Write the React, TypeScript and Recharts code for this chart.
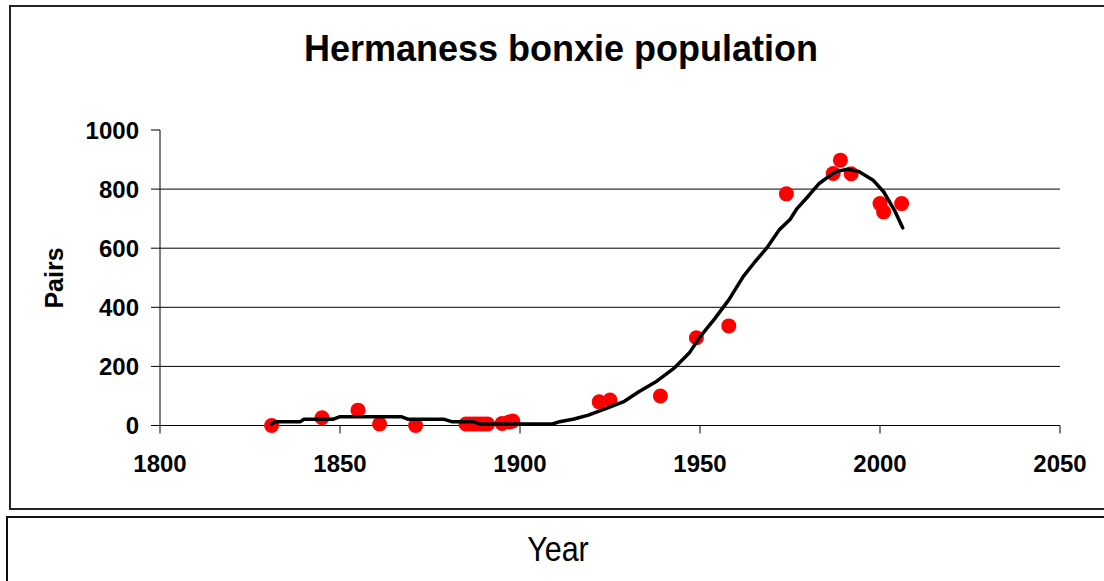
import React from 'react';
import { ScatterChart, Scatter, XAxis, YAxis, ReferenceLine } from 'recharts';

// Observed counts (year, breeding pairs)
const obsYears = [1831, 1845, 1855, 1861, 1871, 1885, 1886, 1887, 1888, 1889, 1890, 1891, 1895, 1897, 1898, 1922, 1925, 1939, 1949, 1958, 1974, 1987, 1989, 1992, 2000, 2001, 2006];
const obsPairs = [0, 26, 52, 5, 0, 5, 5, 5, 5, 5, 5, 5, 7, 12, 15, 80, 86, 100, 297, 337, 784, 853, 898, 852, 751, 723, 751];

// Trend line (year, pairs)
const trendYears = [1831, 1832, 1839, 1840, 1848, 1850, 1867, 1869, 1879, 1881, 1887, 1889, 1909, 1911, 1915, 1919, 1924, 1929, 1933, 1938, 1943, 1947, 1950, 1954, 1958, 1962, 1965, 1968.5, 1972, 1975, 1977, 1980, 1983, 1986, 1988, 1991, 1994, 1998, 2001, 2004, 2006.3];
const trendPairs = [5, 13, 13, 21, 21, 30, 30, 21, 21, 13, 13, 5, 5, 13, 22, 35, 58, 82, 114, 150, 196, 245, 300, 360, 425, 504, 550, 600, 662, 697, 735, 775, 818, 845, 860, 867, 860, 831, 791, 729, 669];

const xTicks = [1800, 1850, 1900, 1950, 2000, 2050];
const yTicks = [0, 200, 400, 600, 800, 1000];
const gridValues = [200, 400, 600, 800];

const observations = obsYears.map((year, i) => ({ year, pairs: obsPairs[i] }));
const trend = trendYears.map((year, i) => ({ year, pairs: trendPairs[i] }));

const FONT = '"Liberation Sans", Arial, sans-serif';

const RedDot = (props: any) => (
  <circle cx={props.cx} cy={props.cy} r={7.5} fill="#ff0000" />
);
const NoDot = () => <g />;

export default function App() {
  return (
    <div
      style={{
        position: 'absolute',
        left: 0,
        top: 0,
        width: 1104,
        height: 581,
        overflow: 'hidden',
        background: '#fff',
      }}
    >
      <div
        style={{
          position: 'absolute',
          left: 9,
          top: 5,
          width: 1120,
          height: 505,
          border: '2px solid #222',
          boxSizing: 'border-box',
        }}
      />
      <div
        style={{
          position: 'absolute',
          left: 6,
          top: 516,
          width: 1120,
          height: 100,
          border: '2px solid #111',
          boxSizing: 'border-box',
        }}
      />
      <div
        style={{
          position: 'absolute',
          left: 61,
          width: 1000,
          top: 31,
          textAlign: 'center',
          fontFamily: FONT,
          fontWeight: 'bold',
          fontSize: 36,
          lineHeight: 1,
          color: '#000',
        }}
      >
        Hermaness bonxie population
      </div>
      <div
        style={{
          position: 'absolute',
          left: 54,
          top: 278,
          transform: 'translate(-50%, -50%) rotate(-90deg)',
          fontFamily: FONT,
          fontWeight: 'bold',
          fontSize: 25,
          lineHeight: 1,
          whiteSpace: 'nowrap',
          color: '#000',
        }}
      >
        Pairs
      </div>
      <div
        style={{
          position: 'absolute',
          left: 458,
          width: 200,
          top: 531,
          textAlign: 'center',
          fontFamily: FONT,
          fontSize: 35,
          lineHeight: 1,
          color: '#000',
          transform: 'scaleX(0.87)',
        }}
      >
        Year
      </div>
      <div style={{ position: 'absolute', left: 0, top: 0 }}>
        <ScatterChart
          width={1104}
          height={505}
          margin={{ top: 130, right: 44, bottom: 19.5, left: 0 }}
        >
          <XAxis
            type="number"
            dataKey="year"
            domain={[1800, 2050]}
            ticks={xTicks}
            height={60}
            axisLine={{ stroke: '#000', strokeWidth: 1 }}
            tickLine={{ stroke: '#000', strokeWidth: 1 }}
            tickSize={8}
            tickMargin={21}
            tick={{ fill: '#000', fontSize: 24, fontWeight: 'bold', fontFamily: FONT }}
          />
          <YAxis
            type="number"
            dataKey="pairs"
            domain={[0, 1000]}
            ticks={yTicks}
            width={160}
            axisLine={{ stroke: '#000', strokeWidth: 1 }}
            tickLine={{ stroke: '#000', strokeWidth: 1 }}
            tickSize={9}
            tickMargin={12}
            tick={{ fill: '#000', fontSize: 24, fontWeight: 'bold', fontFamily: FONT }}
          />
          {gridValues.map((v) => (
            <ReferenceLine key={v} y={v} stroke="#000" strokeWidth={1} ifOverflow="visible" />
          ))}
          <Scatter
            data={observations}
            dataKey="pairs"
            shape={RedDot}
            isAnimationActive={false}
          />
          <Scatter
            data={trend}
            dataKey="pairs"
            shape={NoDot}
            line={{ stroke: '#000', strokeWidth: 3.5, strokeLinejoin: 'round', strokeLinecap: 'round' }}
            isAnimationActive={false}
          />
        </ScatterChart>
      </div>
    </div>
  );
}
